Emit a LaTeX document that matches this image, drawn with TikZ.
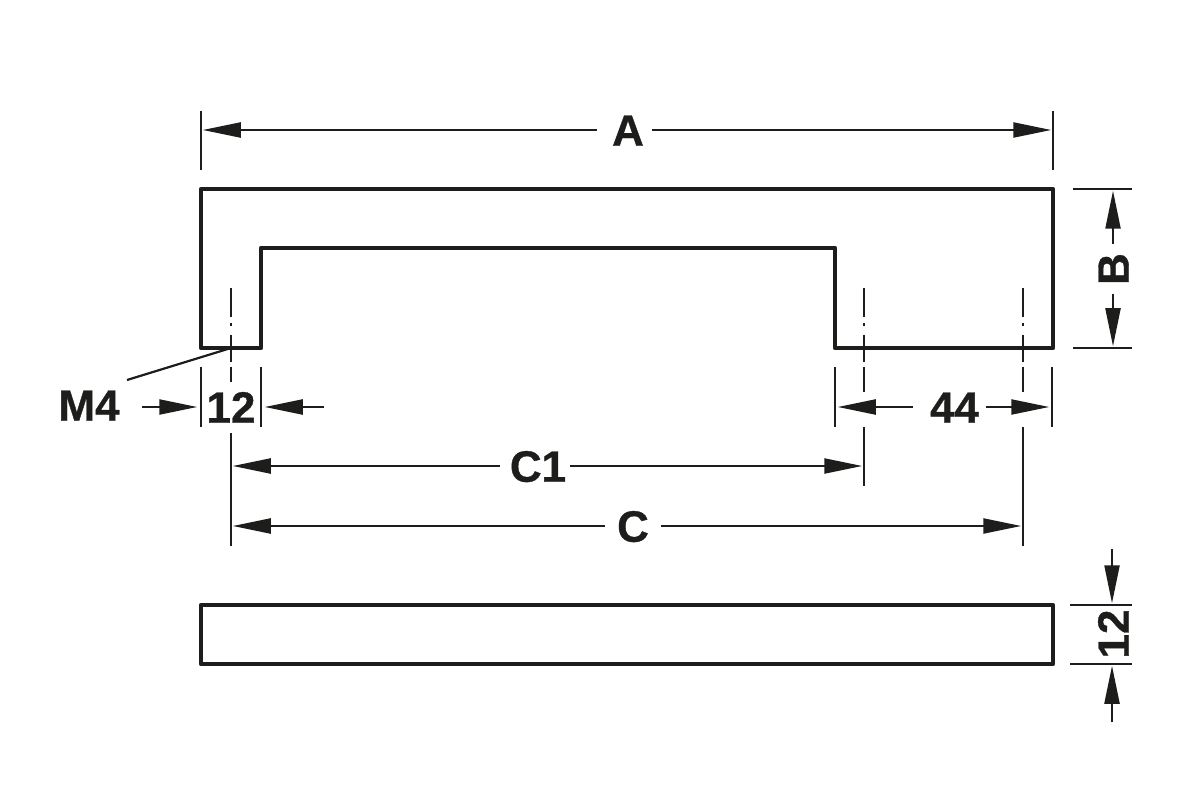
\documentclass[tikz,border=0pt]{standalone}
\usepackage{fontspec}
\setmainfont{Liberation Sans}[BoldFeatures={FakeBold=0.8}]
\usetikzlibrary{arrows.meta}
\definecolor{inkblack}{HTML}{1D1D1B}
\tikzset{
    outline/.style={draw=inkblack, line width=2.4pt, line join=round},
    dimline/.style={draw=inkblack, line width=1.25pt},
    dimarrow/.style={dimline, -{Triangle[length=0.76cm, width=0.3cm]}, shorten >=1pt},
    centerline/.style={draw=inkblack, line width=1.25pt, dash pattern=on 16.4pt off 3.4pt on 1.7pt off 5.1pt on 15.3pt off 2.8pt on 30pt},
    dimlabel/.style={text=inkblack, font=\fontsize{25}{25}\selectfont\bfseries, text height=17.9pt, text depth=0pt, inner ysep=0pt, inner xsep=0pt}
}
\begin{document}
\begin{tikzpicture}[x=0.02cm, y=-0.02cm]
    \useasboundingbox (0,0) rectangle (1200,800);
    % Handle, side view and top view
    \draw[outline] (201,348) -- (201,189) -- (1053,189) -- (1053,348) -- (835,348) -- (835,248) -- (261,248) -- (261,348) -- cycle;
    \draw[outline] (201,605) rectangle (1053,664);
    % Labels
    \node[dimlabel, minimum width=1.1cm] (labelA) at (624.5,130) {\hspace*{0.14cm}A};
    \node[dimlabel, rotate=90, minimum width=0.98cm] (labelB) at (1113,269) {B};
    \node[dimlabel] (labelM) at (89,405) {M4};
    \node[dimlabel] (labelTwelve) at (231,407) {12};
    \node[dimlabel, minimum width=1.46cm] (labelFortyFour) at (949.5,407) {\hspace*{0.2cm}44};
    \node[dimlabel, minimum width=1.4cm] (labelCOne) at (535,466) {\hspace*{0.12cm}C1};
    \node[dimlabel, minimum width=1.1cm] (labelC) at (633,526) {C};
    \node[dimlabel, rotate=90] (labelDepth) at (1113,634) {12};
    % Fixed points
    \foreach \n/\x/\y in {
        aLeft/201/130, aRight/1053/130, aLeftT/201/111, aLeftB/201/170, aRightT/1053/111, aRightB/1053/170,
        bTop/1113/189, bBottom/1113/348, bTopL/1073/189, bTopR/1132/189, bBotL/1073/348, bBotR/1132/348,
        twL/201/367, twLB/201/427, twR/261/367, twRB/261/427, twInL/199/407, twOutL/142/407, twInR/263/407, twOutR/324/407,
        fyL/835/367, fyLB/835/427, fyR/1052/367, fyRB/1052/427, fyTipL/836/407, fyTipR/1051/407,
        cOneL/231/466, cOneR/864/466, cL/231/526, cR/1023/526,
        leaderEnd/127/380, leaderTip/231/348,
        cenAT/231/288, cenAB/231/382, cenBT/864/288, cenBB/864/392, cenCT/1023/288, cenCB/1023/392,
        extAT/231/433, extAB/231/546, extBT/864/427, extBB/864/486, extCT/1023/427, extCB/1023/546,
        dpTopL/1070/605, dpTopR/1132/605, dpBotL/1070/664, dpBotR/1132/664,
        dpTop/1112/605, dpBot/1112/664, dpOutT/1112/549, dpOutB/1112/722%
    } {
        \coordinate (\n) at (\x,\y);
    }
    % Extension lines
    \foreach \a/\b in {aLeftT/aLeftB, aRightT/aRightB, bTopL/bTopR, bBotL/bBotR, twL/twLB, twR/twRB, fyL/fyLB, fyR/fyRB,
        extAT/extAB, extBT/extBB, extCT/extCB, dpTopL/dpTopR, dpBotL/dpBotR, leaderEnd/leaderTip} {
        \draw[dimline] (\a) -- (\b);
    }
    % Center lines
    \foreach \a/\b in {cenAT/cenAB, cenBT/cenBB, cenCT/cenCB} {
        \draw[centerline] (\a) -- (\b);
    }
    % Dimension arrows
    \foreach \a/\b in {labelA/aLeft, labelA/aRight, labelB/bTop, labelB/bBottom, labelCOne/cOneL, labelCOne/cOneR,
        labelC/cL, labelC/cR, twOutL/twInL, twOutR/twInR, labelFortyFour/fyTipL, labelFortyFour/fyTipR, dpOutT/dpTop, dpOutB/dpBot} {
        \draw[dimarrow] (\a) -- (\b);
    }
\end{tikzpicture}
\end{document}
